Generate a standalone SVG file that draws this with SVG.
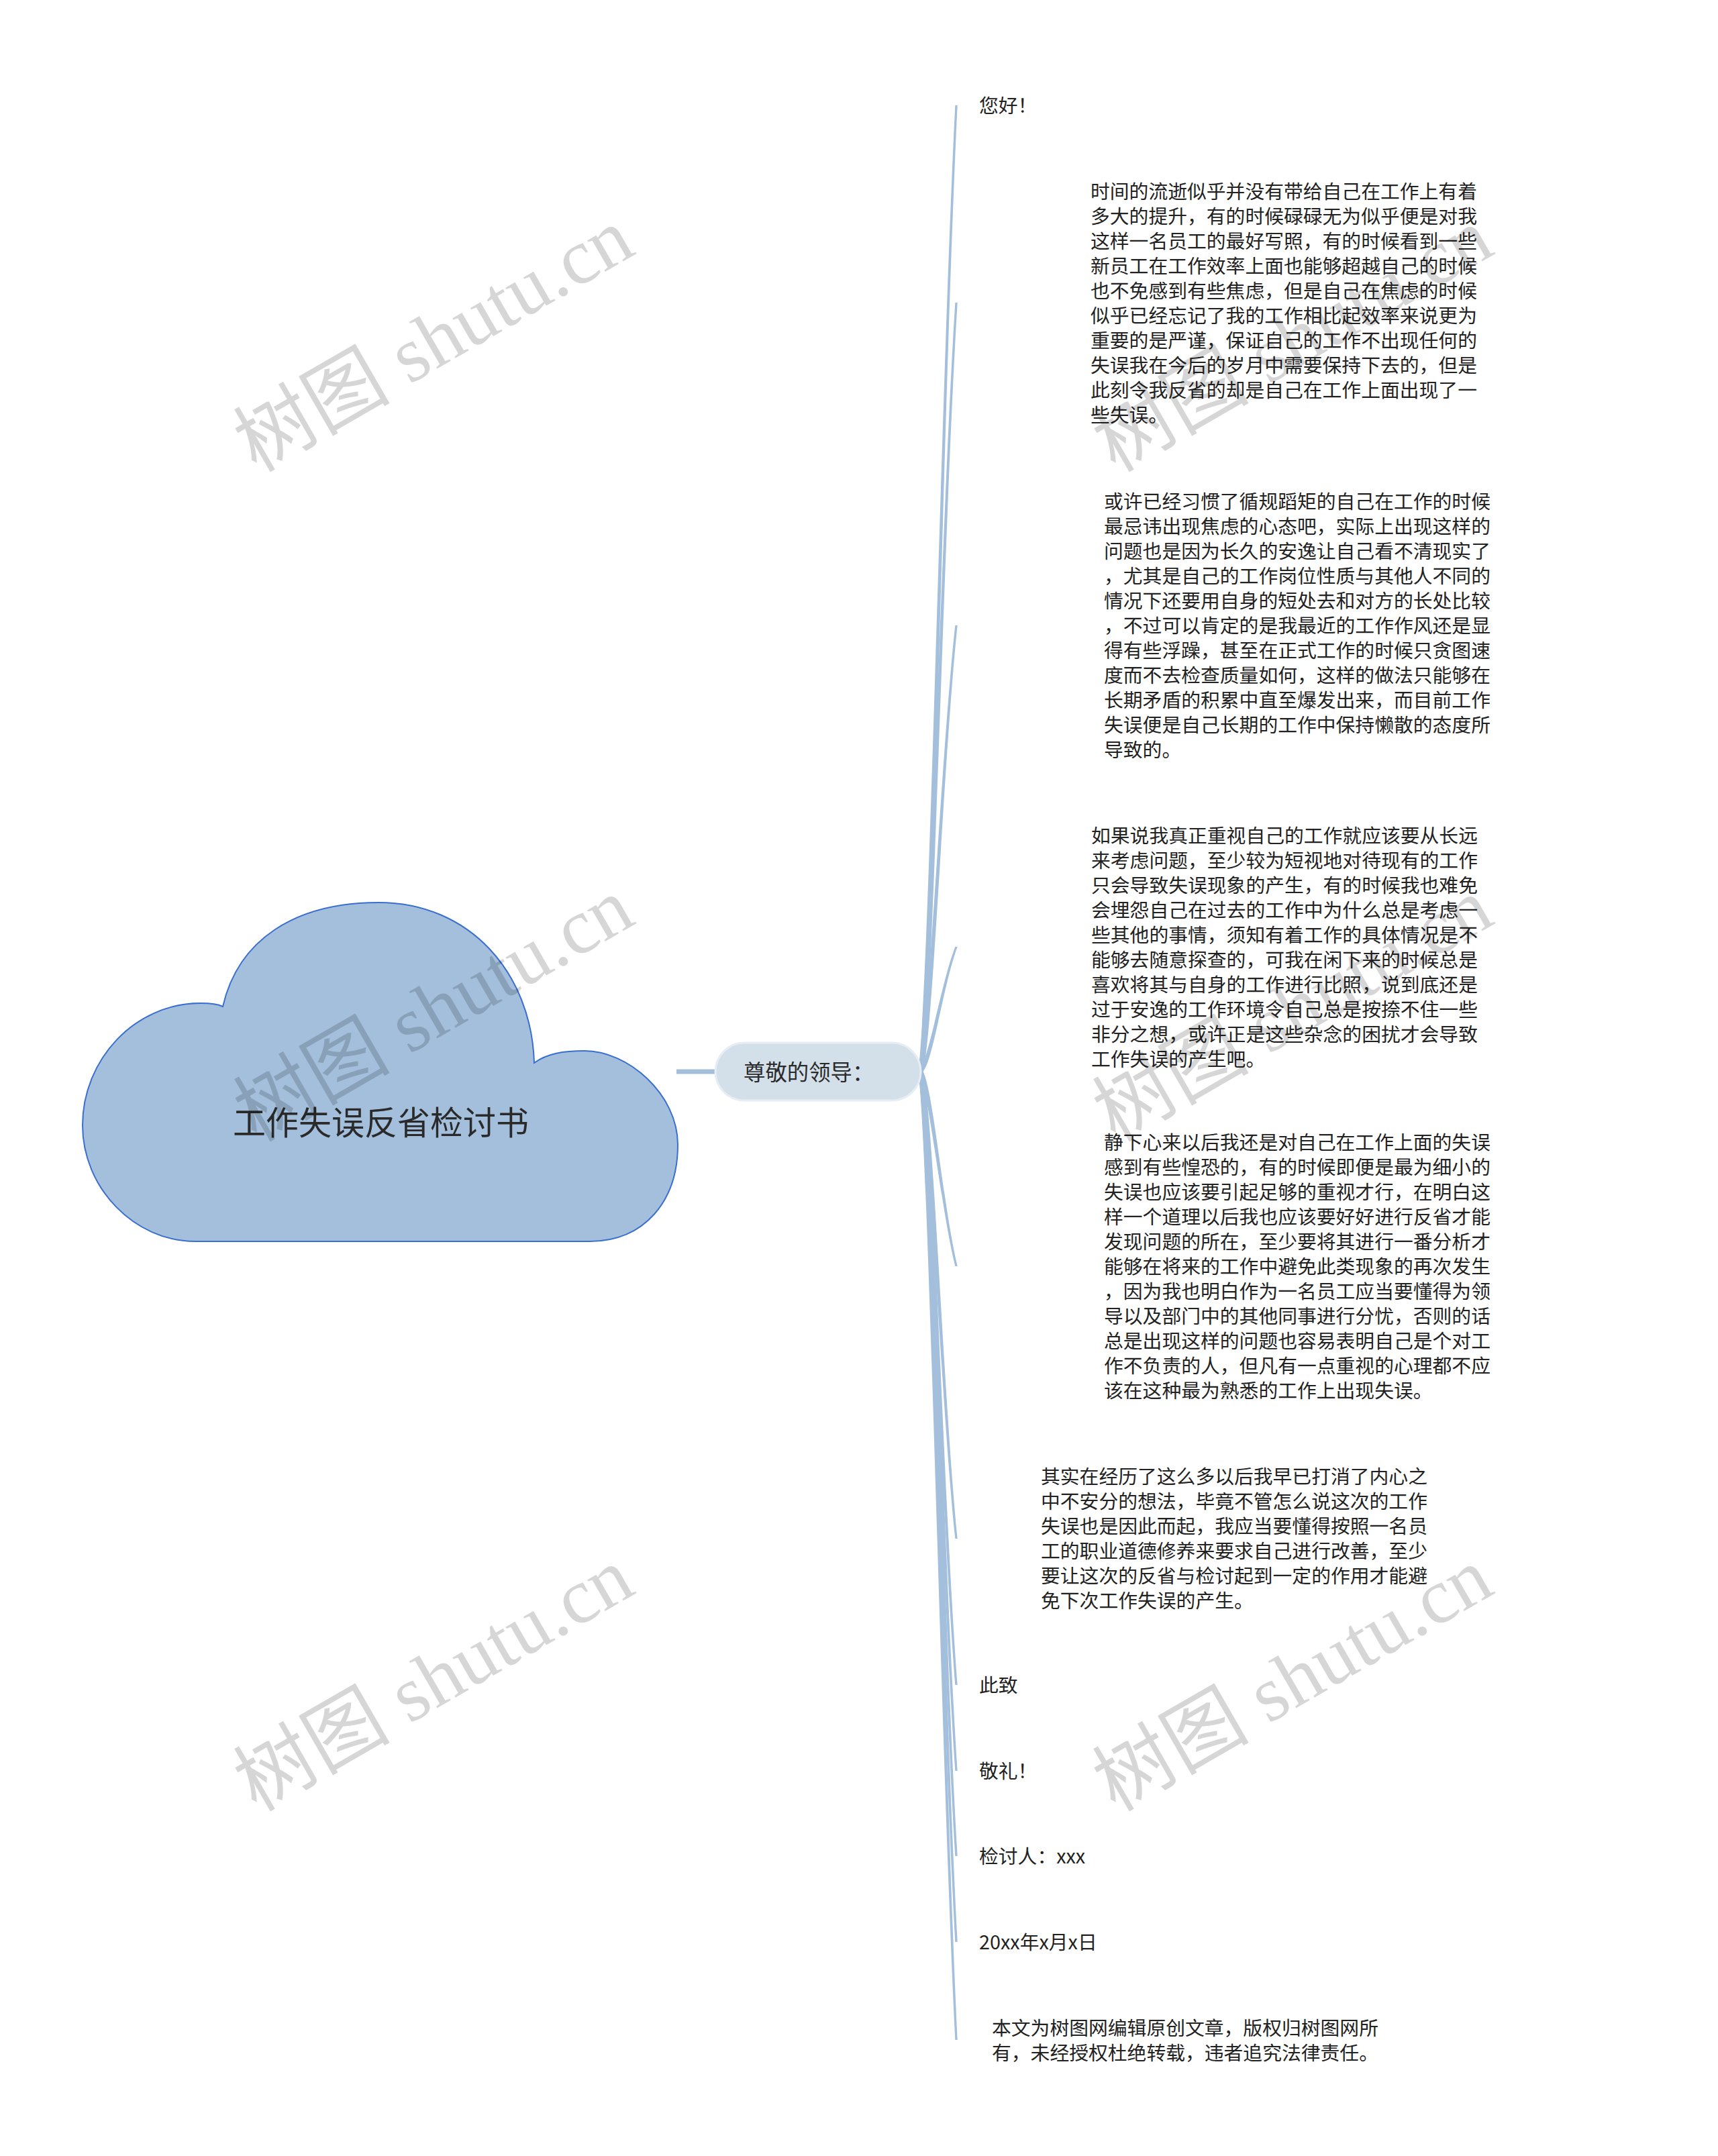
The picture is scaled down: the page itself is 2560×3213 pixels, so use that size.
<svg xmlns="http://www.w3.org/2000/svg" width="2560" height="3213" viewBox="0 0 2560 3213">
<style>
.t{font-family:"Noto Sans CJK SC","Liberation Sans",sans-serif;font-size:28.8px;fill:#222222}
.title{font-family:"Noto Sans CJK SC","Liberation Sans",sans-serif;font-size:49px;fill:#2a2a2a}
.sub{font-family:"Noto Sans CJK SC","Liberation Sans",sans-serif;font-size:32.4px;fill:#2a2a2a}
.con{fill:#a3bfdc}
.wm{font-family:"Liberation Serif","Noto Sans CJK SC",serif;font-size:117px;fill:#000000;fill-opacity:0.16}
</style>
<rect width="2560" height="3213" fill="#ffffff"/>
<g id="connectors">
<line x1="1008" y1="1597" x2="1068" y2="1597" stroke="#a3bfdc" stroke-width="7"/>
<path class="con" d="M1368.5 1597 C1384.9 1453 1401.8 589 1423.3 157 L1426.7 157 C1405.8 589 1390.9 1453 1375.5 1597 Z"/>
<path class="con" d="M1368.5 1597 C1384.9 1482.4 1401.8 794.8 1423.3 451 L1426.7 451 C1405.8 794.8 1390.9 1482.4 1375.5 1597 Z"/>
<path class="con" d="M1368.5 1597 C1384.9 1530.5 1401.8 1131.5 1423.3 932 L1426.7 932 C1405.8 1131.5 1390.9 1530.5 1375.5 1597 Z"/>
<path class="con" d="M1368.5 1597 C1384.9 1578.4 1401.8 1466.8 1423.3 1411 L1426.7 1411 C1405.8 1466.8 1390.9 1578.4 1375.5 1597 Z"/>
<path class="con" d="M1368.5 1597 C1384.9 1626 1401.8 1800 1423.3 1887 L1426.7 1887 C1405.8 1800 1390.9 1626 1375.5 1597 Z"/>
<path class="con" d="M1368.5 1597 C1384.9 1666.6 1401.8 2084.2 1423.3 2293 L1426.7 2293 C1405.8 2084.2 1390.9 1666.6 1375.5 1597 Z"/>
<path class="con" d="M1368.5 1597 C1384.9 1688.4 1401.8 2236.8 1423.3 2511 L1426.7 2511 C1405.8 2236.8 1390.9 1688.4 1375.5 1597 Z"/>
<path class="con" d="M1368.5 1597 C1384.9 1701.2 1401.8 2326.4 1423.3 2639 L1426.7 2639 C1405.8 2326.4 1390.9 1701.2 1375.5 1597 Z"/>
<path class="con" d="M1368.5 1597 C1384.9 1713.9 1401.8 2415.3 1423.3 2766 L1426.7 2766 C1405.8 2415.3 1390.9 1713.9 1375.5 1597 Z"/>
<path class="con" d="M1368.5 1597 C1384.9 1726.7 1401.8 2504.9 1423.3 2894 L1426.7 2894 C1405.8 2504.9 1390.9 1726.7 1375.5 1597 Z"/>
<path class="con" d="M1368.5 1597 C1384.9 1741.3 1401.8 2607.1 1423.3 3040 L1426.7 3040 C1405.8 2607.1 1390.9 1741.3 1375.5 1597 Z"/>
</g>
<g id="root">
<path d="M291 1850 C200 1850 123 1770 123 1677 C123 1580 200 1495 299 1495 C315 1495 326 1497 332 1500 C355 1400 440 1345 564 1345 C700 1345 792 1450 796 1584 C815 1570 840 1566 871 1566 C935 1566 1010 1630 1010 1706 C1010 1790 960 1850 879 1850 Z" fill="#a3bfdc" stroke="#3a6fd0" stroke-width="2"/>
<text class="title" x="347" y="1691">工作失误反省检讨书</text>
</g>
<g id="sub">
<rect x="1066" y="1554" width="306" height="86" rx="43" ry="43" fill="#d3e0ea" stroke="#e6edf4" stroke-width="3"/>
<text class="sub" x="1108" y="1610">尊敬的领导：</text>
</g>
<g id="n1"><text class="t" x="1459" y="168">您好！</text></g>
<g id="n2"><text class="t">
<tspan x="1625" y="295.7">时间的流逝似乎并没有带给自己在工作上有着</tspan>
<tspan x="1625" dy="37">多大的提升，有的时候碌碌无为似乎便是对我</tspan>
<tspan x="1625" dy="37">这样一名员工的最好写照，有的时候看到一些</tspan>
<tspan x="1625" dy="37">新员工在工作效率上面也能够超越自己的时候</tspan>
<tspan x="1625" dy="37">也不免感到有些焦虑，但是自己在焦虑的时候</tspan>
<tspan x="1625" dy="37">似乎已经忘记了我的工作相比起效率来说更为</tspan>
<tspan x="1625" dy="37">重要的是严谨，保证自己的工作不出现任何的</tspan>
<tspan x="1625" dy="37">失误我在今后的岁月中需要保持下去的，但是</tspan>
<tspan x="1625" dy="37">此刻令我反省的却是自己在工作上面出现了一</tspan>
<tspan x="1625" dy="37">些失误。</tspan>
</text></g>
<g id="n3"><text class="t">
<tspan x="1645" y="757.8">或许已经习惯了循规蹈矩的自己在工作的时候</tspan>
<tspan x="1645" dy="37">最忌讳出现焦虑的心态吧，实际上出现这样的</tspan>
<tspan x="1645" dy="37">问题也是因为长久的安逸让自己看不清现实了</tspan>
<tspan x="1645" dy="37">，尤其是自己的工作岗位性质与其他人不同的</tspan>
<tspan x="1645" dy="37">情况下还要用自身的短处去和对方的长处比较</tspan>
<tspan x="1645" dy="37">，不过可以肯定的是我最近的工作作风还是显</tspan>
<tspan x="1645" dy="37">得有些浮躁，甚至在正式工作的时候只贪图速</tspan>
<tspan x="1645" dy="37">度而不去检查质量如何，这样的做法只能够在</tspan>
<tspan x="1645" dy="37">长期矛盾的积累中直至爆发出来，而目前工作</tspan>
<tspan x="1645" dy="37">失误便是自己长期的工作中保持懒散的态度所</tspan>
<tspan x="1645" dy="37">导致的。</tspan>
</text></g>
<g id="n4"><text class="t">
<tspan x="1626" y="1256.1">如果说我真正重视自己的工作就应该要从长远</tspan>
<tspan x="1626" dy="37">来考虑问题，至少较为短视地对待现有的工作</tspan>
<tspan x="1626" dy="37">只会导致失误现象的产生，有的时候我也难免</tspan>
<tspan x="1626" dy="37">会埋怨自己在过去的工作中为什么总是考虑一</tspan>
<tspan x="1626" dy="37">些其他的事情，须知有着工作的具体情况是不</tspan>
<tspan x="1626" dy="37">能够去随意探查的，可我在闲下来的时候总是</tspan>
<tspan x="1626" dy="37">喜欢将其与自身的工作进行比照，说到底还是</tspan>
<tspan x="1626" dy="37">过于安逸的工作环境令自己总是按捺不住一些</tspan>
<tspan x="1626" dy="37">非分之想，或许正是这些杂念的困扰才会导致</tspan>
<tspan x="1626" dy="37">工作失误的产生吧。</tspan>
</text></g>
<g id="n5"><text class="t">
<tspan x="1645" y="1712.8">静下心来以后我还是对自己在工作上面的失误</tspan>
<tspan x="1645" dy="37">感到有些惶恐的，有的时候即便是最为细小的</tspan>
<tspan x="1645" dy="37">失误也应该要引起足够的重视才行，在明白这</tspan>
<tspan x="1645" dy="37">样一个道理以后我也应该要好好进行反省才能</tspan>
<tspan x="1645" dy="37">发现问题的所在，至少要将其进行一番分析才</tspan>
<tspan x="1645" dy="37">能够在将来的工作中避免此类现象的再次发生</tspan>
<tspan x="1645" dy="37">，因为我也明白作为一名员工应当要懂得为领</tspan>
<tspan x="1645" dy="37">导以及部门中的其他同事进行分忧，否则的话</tspan>
<tspan x="1645" dy="37">总是出现这样的问题也容易表明自己是个对工</tspan>
<tspan x="1645" dy="37">作不负责的人，但凡有一点重视的心理都不应</tspan>
<tspan x="1645" dy="37">该在这种最为熟悉的工作上出现失误。</tspan>
</text></g>
<g id="n6"><text class="t">
<tspan x="1551" y="2211.1">其实在经历了这么多以后我早已打消了内心之</tspan>
<tspan x="1551" dy="37">中不安分的想法，毕竟不管怎么说这次的工作</tspan>
<tspan x="1551" dy="37">失误也是因此而起，我应当要懂得按照一名员</tspan>
<tspan x="1551" dy="37">工的职业道德修养来要求自己进行改善，至少</tspan>
<tspan x="1551" dy="37">要让这次的反省与检讨起到一定的作用才能避</tspan>
<tspan x="1551" dy="37">免下次工作失误的产生。</tspan>
</text></g>
<g id="n7"><text class="t" x="1459" y="2522">此致</text></g>
<g id="n8"><text class="t" x="1459" y="2650">敬礼！</text></g>
<g id="n9"><text class="t" x="1459" y="2777">检讨人：xxx</text></g>
<g id="n10"><text class="t" x="1459" y="2905">20xx年x月x日</text></g>
<g id="n11"><text class="t">
<tspan x="1478" y="3032.6">本文为树图网编辑原创文章，版权归树图网所</tspan>
<tspan x="1478" dy="37">有，未经授权杜绝转载，违者追究法律责任。</tspan>
</text></g>
<g id="watermarks">
<text class="wm" text-anchor="middle" transform="translate(666,541) rotate(-30)">树图 shutu.cn</text>
<text class="wm" text-anchor="middle" transform="translate(666,1539) rotate(-30)">树图 shutu.cn</text>
<text class="wm" text-anchor="middle" transform="translate(666,2537) rotate(-30)">树图 shutu.cn</text>
<text class="wm" text-anchor="middle" transform="translate(1946,541) rotate(-30)">树图 shutu.cn</text>
<text class="wm" text-anchor="middle" transform="translate(1946,1539) rotate(-30)">树图 shutu.cn</text>
<text class="wm" text-anchor="middle" transform="translate(1946,2537) rotate(-30)">树图 shutu.cn</text>
</g>
</svg>
